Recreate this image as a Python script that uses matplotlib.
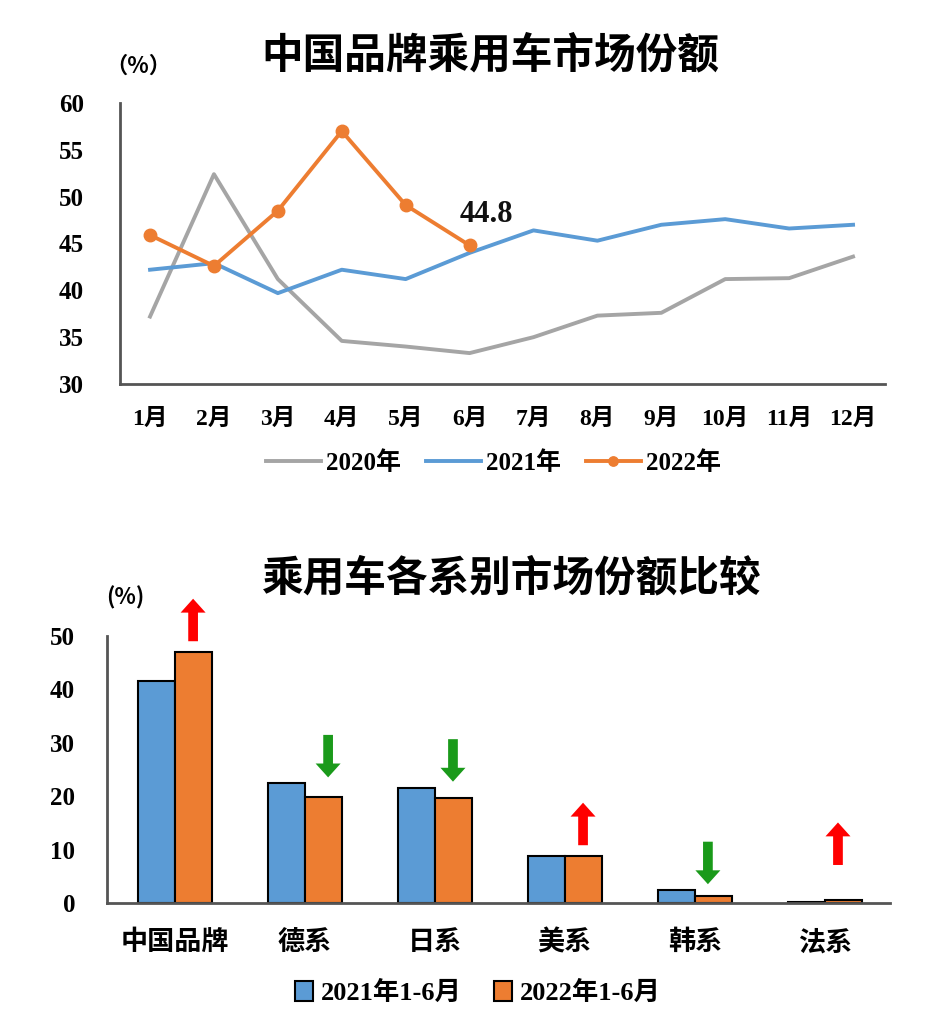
import matplotlib
matplotlib.use("Agg")
import matplotlib.pyplot as plt

plt.rcParams['font.family'] = ['Noto Sans CJK SC', 'DejaVu Sans']
MIX = ['Liberation Serif', 'Noto Sans CJK SC', 'DejaVu Sans']

months = ['1月', '2月', '3月', '4月', '5月', '6月', '7月', '8月', '9月', '10月', '11月', '12月']
share_2020 = [37.2, 52.4, 41.2, 34.6, 34.0, 33.3, 35.0, 37.3, 37.6, 41.2, 41.3, 43.6]
share_2021 = [42.2, 42.9, 39.7, 42.2, 41.2, 44.0, 46.4, 45.3, 47.0, 47.6, 46.6, 47.0]
share_2022 = [45.9, 42.6, 48.5, 57.0, 49.1, 44.8]
line_labels = ['2020年', '2021年', '2022年']
line_yticks = [30, 35, 40, 45, 50, 55, 60]

categories = ['中国品牌', '德系', '日系', '美系', '韩系', '法系']
bar_2021 = [41.5, 22.4, 21.6, 8.8, 2.4, 0.2]
bar_2022 = [47.0, 19.9, 19.6, 8.8, 1.3, 0.6]
bar_labels = ['2021年1-6月', '2022年1-6月']
bar_yticks = [0, 10, 20, 30, 40, 50]
trend = ['up', 'down', 'down', 'up', 'down', 'up']

C_GRAY = '#A5A5A5'
C_BLUE = '#5B9BD5'
C_ORANGE = '#ED7D31'

fig = plt.figure(figsize=(9.3, 10.24), dpi=100)
W, H = 930, 1024

def ax_at(l, t, r, b):
    return fig.add_axes([l / W, 1 - b / H, (r - l) / W, (b - t) / H])

def style_labels(ax, xsize, ysize):
    for lbl in ax.get_xticklabels():
        lbl.set_fontweight('bold')
        lbl.set_family(MIX)
        lbl.set_fontsize(xsize)
    for lbl in ax.get_yticklabels():
        lbl.set_fontweight('bold')
        lbl.set_family(MIX)
        lbl.set_fontsize(ysize)

# ---------------- Top line chart ----------------
ax1 = ax_at(120, 103, 885, 384)
x = list(range(len(months)))
ax1.plot(x, share_2020, color=C_GRAY, lw=2.8, label=line_labels[0])
ax1.plot(x, share_2021, color=C_BLUE, lw=2.8, label=line_labels[1])
ax1.plot(x[:len(share_2022)], share_2022, color=C_ORANGE, lw=2.8, marker='o',
         ms=9, label=line_labels[2])
ax1.annotate(f'{share_2022[-1]}', (len(share_2022) - 1, share_2022[-1]),
             xytext=(17, 31), textcoords='offset pixels', fontsize=22,
             fontweight='bold', ha='center', va='center', color='#111111',
             family=MIX)
ax1.set_xlim(-0.47, 11.5)
ax1.set_ylim(30, 60)
ax1.set_yticks(line_yticks)
ax1.set_xticks(x)
ax1.set_xticklabels(months)
for s in ['top', 'right']:
    ax1.spines[s].set_visible(False)
for s in ['left', 'bottom']:
    ax1.spines[s].set_color('#555555')
    ax1.spines[s].set_linewidth(2)
ax1.tick_params(axis='both', length=0)
ax1.tick_params(axis='x', pad=18)
ax1.tick_params(axis='y', pad=26)
style_labels(ax1, 17, 18)
fig.text(490 / W, 1 - 55 / H, '中国品牌乘用车市场份额', ha='center', va='center',
         fontsize=30, fontweight='bold')
fig.text(138 / W, 1 - 66 / H, '（%）', ha='center', va='center', fontsize=16,
         fontweight='bold')
leg1 = ax1.legend(loc='center', bbox_to_anchor=(493 / W, 1 - 463 / H),
                  bbox_transform=fig.transFigure, ncol=3, frameon=False,
                  prop={'family': MIX, 'size': 18, 'weight': 'bold'},
                  handlelength=2.2, columnspacing=1.0,
                  handletextpad=0.2, markerscale=0.75)

# ---------------- Bottom bar chart ----------------
ax2 = ax_at(107, 636, 890, 903)
bx = list(range(len(categories)))
bw = 0.285
ax2.bar([i - bw / 2 for i in bx], bar_2021, width=bw, color=C_BLUE,
        edgecolor='black', lw=1.5, label=bar_labels[0])
ax2.bar([i + bw / 2 for i in bx], bar_2022, width=bw, color=C_ORANGE,
        edgecolor='black', lw=1.5, label=bar_labels[1])
ax2.set_xlim(-0.52, 5.5)
ax2.set_ylim(0, 50)
ax2.set_yticks(bar_yticks)
ax2.set_xticks(bx)
ax2.set_xticklabels(categories)
for s in ['top', 'right']:
    ax2.spines[s].set_visible(False)
for s in ['left', 'bottom']:
    ax2.spines[s].set_color('#555555')
    ax2.spines[s].set_linewidth(2)
ax2.tick_params(axis='both', length=0)
ax2.tick_params(axis='x', pad=20)
ax2.tick_params(axis='y', pad=23)
style_labels(ax2, 19.5, 18)

arrow_style = 'simple,head_width=1.8,head_length=1.0,tail_width=0.7'
arrow_dx = [0.142, 0.18, 0.14, 0.14, 0.1, 0.1]
for i, (d, v1, v2) in enumerate(zip(trend, bar_2021, bar_2022)):
    top = max(v1, v2)
    xa = i + arrow_dx[i]
    if d == 'up':
        base = top + (6 if i == 5 else 1.5)
        ax2.annotate('', xy=(xa, base + 9), xytext=(xa, base),
                     arrowprops=dict(arrowstyle=arrow_style, color='#FF0000', lw=0),
                     annotation_clip=False)
    else:
        ax2.annotate('', xy=(xa, top + 0.6), xytext=(xa, top + 9.6),
                     arrowprops=dict(arrowstyle=arrow_style, color='#1A9A1A', lw=0),
                     annotation_clip=False)

fig.text(512 / W, 1 - 578 / H, '乘用车各系别市场份额比较', ha='center', va='center',
         fontsize=30, fontweight='bold')
fig.text(125 / W, 1 - 598 / H, '(%)', ha='center', va='center', fontsize=16,
         fontweight='bold')
leg2 = ax2.legend(loc='center', bbox_to_anchor=(478 / W, 1 - 993 / H),
                  bbox_transform=fig.transFigure, ncol=2, frameon=False,
                  prop={'family': MIX, 'size': 19, 'weight': 'bold'},
                  handlelength=0.7, handleheight=0.8,
                  columnspacing=1.2, handletextpad=0.3)

fig.savefig('out.png', dpi=100, facecolor='white')
